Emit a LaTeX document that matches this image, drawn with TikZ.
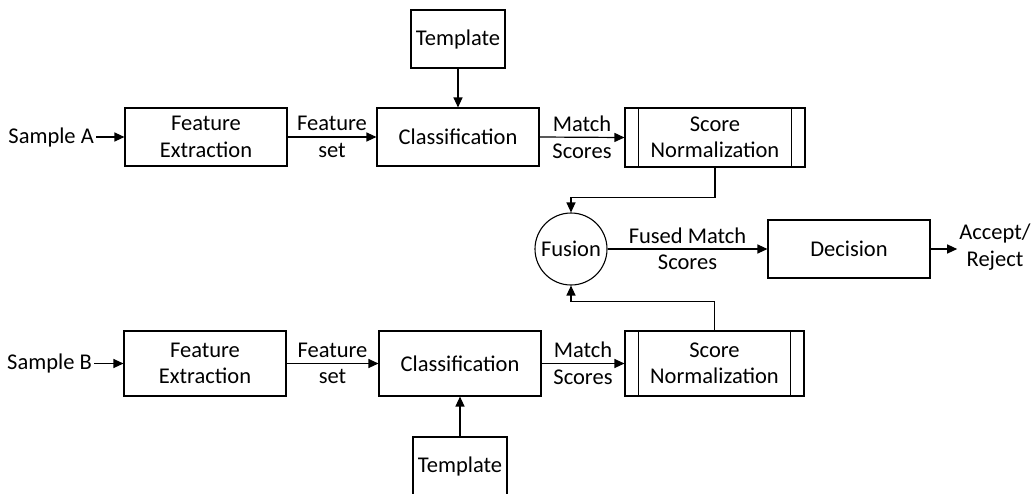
\documentclass[tikz,border=0pt]{standalone}
\usepackage{fontspec}
\setmainfont{Carlito}
\usetikzlibrary{arrows.meta}
\begin{document}
\begin{tikzpicture}[x=1pt,y=-1pt,
  every node/.style={font=\fontsize{22.5}{26.5}\selectfont},
  box/.style={draw, line width=1.1pt, inner sep=0pt, align=center},
  lbl/.style={inner sep=2pt, align=center},
  arr/.style={draw, line width=1.2pt, -{Triangle[length=10pt,width=9pt]}}]
\useasboundingbox (0,0) rectangle (1036,493);

% upper chain
\node[box, minimum width=94pt, minimum height=58pt] (tplA) at (458,39) {Template};
\node[box, minimum width=162pt, minimum height=58pt] (feA) at (206,137) {Feature\\Extraction};
\node[box, minimum width=162pt, minimum height=58pt] (clsA) at (458,137) {Classification};
\node[box, minimum width=180pt, minimum height=59pt] (snA) at (715,137.5) {Score\\Normalization};
\draw[line width=1.1pt] ([xshift=14pt]snA.north west) -- ([xshift=14pt]snA.south west)
                        ([xshift=-14pt]snA.north east) -- ([xshift=-14pt]snA.south east);
\node[lbl, anchor=east] (sa) at (96,137) {Sample A};

% fusion and decision
\node[draw, circle, line width=1.1pt, minimum size=72pt, inner sep=0pt] (fus) at (571,249) {Fusion};
\node[box, minimum width=162pt, minimum height=58pt] (dec) at (849,249) {Decision};
\node[lbl] (acc) at (995,247) {Accept/\\Reject};

% lower chain
\node[box, minimum width=162pt, minimum height=65pt] (feB) at (205,363.5) {Feature\\Extraction};
\node[box, minimum width=162pt, minimum height=65pt] (clsB) at (460,363.5) {Classification};
\node[box, minimum width=179pt, minimum height=65pt] (snB) at (714.5,363.5) {Score\\Normalization};
\draw[line width=1.1pt] ([xshift=14pt]snB.north west) -- ([xshift=14pt]snB.south west)
                        ([xshift=-14pt]snB.north east) -- ([xshift=-14pt]snB.south east);
\node[box, minimum width=94pt, minimum height=58pt] (tplB) at (460,466) {Template};
\node[lbl, anchor=east] (sb) at (94,363.5) {Sample B};

% connectors, upper
\draw[arr] (sa.east) -- (feA.west);
\draw[arr] (feA.east) -- node[lbl] {Feature\\set} (clsA.west);
\draw[arr] (tplA.south) -- (clsA.north);
\draw[arr] (clsA.east) -- node[lbl] {Match\\Scores} (snA.west);
\draw[arr] (snA.south) -- ++(0,30) -| (fus.north);

% connectors, lower
\draw[arr] (sb.east) -- (feB.west);
\draw[arr] (feB.east) -- node[lbl] {Feature\\set} (clsB.west);
\draw[arr] (tplB.north) -- (clsB.south);
\draw[arr] (clsB.east) -- node[lbl] {Match\\Scores} (snB.west);
\draw[arr] (snB.north) -- ++(0,-29) -| (fus.south);

% fused output
\draw[arr] (fus.east) -- node[lbl] {Fused Match\\Scores} (dec.west);
\draw[arr] (dec.east) -- (dec.east -| acc.west);
\end{tikzpicture}
\end{document}
